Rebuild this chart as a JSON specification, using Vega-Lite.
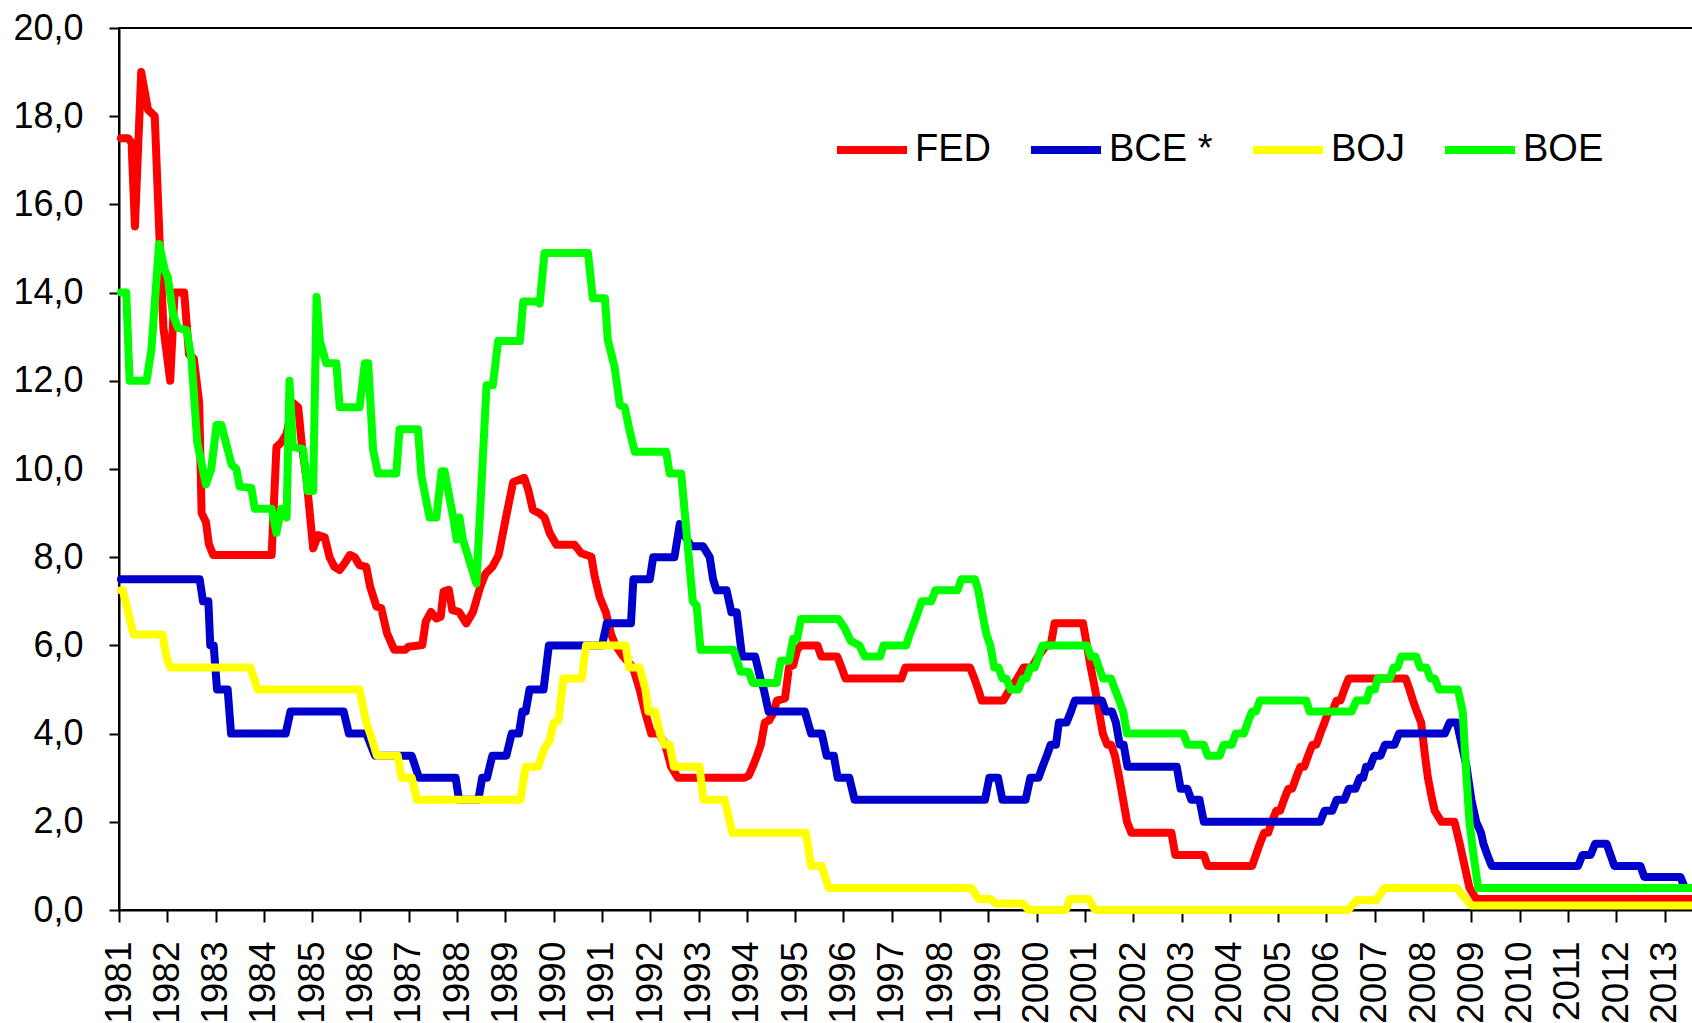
{
"$schema":"https://vega.github.io/schema/vega-lite/v6.json",
"width":1576,"height":882,
"autosize":{"type":"none"},
"padding":{"left":119,"top":28,"right":0,"bottom":113},
"background":"white",
"config":{"view":{"stroke":"black","strokeWidth":2},"font":"Liberation Sans"},
"data":{"values":[
{"bank":"FED","year":1981.04,"rate":17.5},{"bank":"FED","year":1981.19,"rate":17.5},{"bank":"FED","year":1981.26,"rate":17.4},{"bank":"FED","year":1981.33,"rate":15.5},{"bank":"FED","year":1981.46,"rate":19.0},{"bank":"FED","year":1981.6,"rate":18.15},{"bank":"FED","year":1981.74,"rate":18.0},{"bank":"FED","year":1981.84,"rate":15.2},{"bank":"FED","year":1981.92,"rate":13.2},{"bank":"FED","year":1982.06,"rate":12.0},{"bank":"FED","year":1982.15,"rate":14.0},{"bank":"FED","year":1982.35,"rate":14.0},{"bank":"FED","year":1982.45,"rate":12.6},{"bank":"FED","year":1982.55,"rate":12.5},{"bank":"FED","year":1982.66,"rate":11.5},{"bank":"FED","year":1982.71,"rate":9.0},{"bank":"FED","year":1982.8,"rate":8.8},{"bank":"FED","year":1982.86,"rate":8.3},{"bank":"FED","year":1982.95,"rate":8.05},{"bank":"FED","year":1984.16,"rate":8.05},{"bank":"FED","year":1984.26,"rate":10.5},{"bank":"FED","year":1984.36,"rate":10.6},{"bank":"FED","year":1984.47,"rate":10.8},{"bank":"FED","year":1984.6,"rate":11.5},{"bank":"FED","year":1984.71,"rate":11.4},{"bank":"FED","year":1984.79,"rate":10.5},{"bank":"FED","year":1984.88,"rate":9.8},{"bank":"FED","year":1985.02,"rate":8.2},{"bank":"FED","year":1985.12,"rate":8.5},{"bank":"FED","year":1985.26,"rate":8.45},{"bank":"FED","year":1985.36,"rate":8.0},{"bank":"FED","year":1985.46,"rate":7.78},{"bank":"FED","year":1985.57,"rate":7.71},{"bank":"FED","year":1985.67,"rate":7.86},{"bank":"FED","year":1985.78,"rate":8.05},{"bank":"FED","year":1985.88,"rate":8.0},{"bank":"FED","year":1985.98,"rate":7.82},{"bank":"FED","year":1986.12,"rate":7.78},{"bank":"FED","year":1986.2,"rate":7.33},{"bank":"FED","year":1986.33,"rate":6.88},{"bank":"FED","year":1986.43,"rate":6.84},{"bank":"FED","year":1986.55,"rate":6.27},{"bank":"FED","year":1986.7,"rate":5.9},{"bank":"FED","year":1986.92,"rate":5.9},{"bank":"FED","year":1987.0,"rate":5.97},{"bank":"FED","year":1987.28,"rate":6.01},{"bank":"FED","year":1987.35,"rate":6.54},{"bank":"FED","year":1987.46,"rate":6.76},{"bank":"FED","year":1987.57,"rate":6.61},{"bank":"FED","year":1987.66,"rate":6.65},{"bank":"FED","year":1987.72,"rate":7.22},{"bank":"FED","year":1987.83,"rate":7.26},{"bank":"FED","year":1987.9,"rate":6.8},{"bank":"FED","year":1988.04,"rate":6.76},{"bank":"FED","year":1988.19,"rate":6.5},{"bank":"FED","year":1988.33,"rate":6.76},{"bank":"FED","year":1988.48,"rate":7.33},{"bank":"FED","year":1988.59,"rate":7.63},{"bank":"FED","year":1988.73,"rate":7.78},{"bank":"FED","year":1988.86,"rate":8.05},{"bank":"FED","year":1988.94,"rate":8.5},{"bank":"FED","year":1989.03,"rate":9.0},{"bank":"FED","year":1989.16,"rate":9.7},{"bank":"FED","year":1989.39,"rate":9.8},{"bank":"FED","year":1989.48,"rate":9.5},{"bank":"FED","year":1989.57,"rate":9.07},{"bank":"FED","year":1989.7,"rate":9.0},{"bank":"FED","year":1989.81,"rate":8.9},{"bank":"FED","year":1989.92,"rate":8.54},{"bank":"FED","year":1990.06,"rate":8.28},{"bank":"FED","year":1990.43,"rate":8.28},{"bank":"FED","year":1990.57,"rate":8.09},{"bank":"FED","year":1990.78,"rate":8.01},{"bank":"FED","year":1990.85,"rate":7.56},{"bank":"FED","year":1990.95,"rate":7.1},{"bank":"FED","year":1991.08,"rate":6.75},{"bank":"FED","year":1991.19,"rate":6.25},{"bank":"FED","year":1991.28,"rate":6.0},{"bank":"FED","year":1991.44,"rate":5.75},{"bank":"FED","year":1991.64,"rate":5.5},{"bank":"FED","year":1991.78,"rate":5.0},{"bank":"FED","year":1991.89,"rate":4.5},{"bank":"FED","year":1992.02,"rate":4.0},{"bank":"FED","year":1992.18,"rate":4.0},{"bank":"FED","year":1992.31,"rate":3.75},{"bank":"FED","year":1992.43,"rate":3.25},{"bank":"FED","year":1992.57,"rate":3.0},{"bank":"FED","year":1993.95,"rate":3.0},{"bank":"FED","year":1994.04,"rate":3.05},{"bank":"FED","year":1994.12,"rate":3.25},{"bank":"FED","year":1994.21,"rate":3.5},{"bank":"FED","year":1994.29,"rate":3.75},{"bank":"FED","year":1994.37,"rate":4.25},{"bank":"FED","year":1994.46,"rate":4.3},{"bank":"FED","year":1994.54,"rate":4.45},{"bank":"FED","year":1994.62,"rate":4.75},{"bank":"FED","year":1994.79,"rate":4.8},{"bank":"FED","year":1994.87,"rate":5.5},{"bank":"FED","year":1994.96,"rate":5.55},{"bank":"FED","year":1995.04,"rate":5.9},{"bank":"FED","year":1995.12,"rate":6.0},{"bank":"FED","year":1995.46,"rate":6.0},{"bank":"FED","year":1995.54,"rate":5.75},{"bank":"FED","year":1995.87,"rate":5.75},{"bank":"FED","year":1995.96,"rate":5.5},{"bank":"FED","year":1996.04,"rate":5.25},{"bank":"FED","year":1997.2,"rate":5.25},{"bank":"FED","year":1997.28,"rate":5.5},{"bank":"FED","year":1998.62,"rate":5.5},{"bank":"FED","year":1998.71,"rate":5.25},{"bank":"FED","year":1998.79,"rate":5.0},{"bank":"FED","year":1998.86,"rate":4.75},{"bank":"FED","year":1999.31,"rate":4.75},{"bank":"FED","year":1999.44,"rate":5.0},{"bank":"FED","year":1999.6,"rate":5.25},{"bank":"FED","year":1999.73,"rate":5.5},{"bank":"FED","year":1999.9,"rate":5.5},{"bank":"FED","year":2000.03,"rate":5.75},{"bank":"FED","year":2000.2,"rate":6.0},{"bank":"FED","year":2000.29,"rate":6.0},{"bank":"FED","year":2000.37,"rate":6.5},{"bank":"FED","year":2000.96,"rate":6.5},{"bank":"FED","year":2001.04,"rate":6.0},{"bank":"FED","year":2001.12,"rate":5.5},{"bank":"FED","year":2001.21,"rate":5.0},{"bank":"FED","year":2001.29,"rate":4.5},{"bank":"FED","year":2001.37,"rate":4.0},{"bank":"FED","year":2001.46,"rate":3.75},{"bank":"FED","year":2001.54,"rate":3.75},{"bank":"FED","year":2001.62,"rate":3.5},{"bank":"FED","year":2001.71,"rate":3.0},{"bank":"FED","year":2001.79,"rate":2.5},{"bank":"FED","year":2001.87,"rate":2.0},{"bank":"FED","year":2001.96,"rate":1.75},{"bank":"FED","year":2002.79,"rate":1.75},{"bank":"FED","year":2002.87,"rate":1.25},{"bank":"FED","year":2003.46,"rate":1.25},{"bank":"FED","year":2003.54,"rate":1.0},{"bank":"FED","year":2004.46,"rate":1.0},{"bank":"FED","year":2004.54,"rate":1.25},{"bank":"FED","year":2004.62,"rate":1.5},{"bank":"FED","year":2004.71,"rate":1.75},{"bank":"FED","year":2004.79,"rate":1.75},{"bank":"FED","year":2004.87,"rate":2.0},{"bank":"FED","year":2004.96,"rate":2.25},{"bank":"FED","year":2005.04,"rate":2.25},{"bank":"FED","year":2005.12,"rate":2.5},{"bank":"FED","year":2005.21,"rate":2.75},{"bank":"FED","year":2005.29,"rate":2.75},{"bank":"FED","year":2005.37,"rate":3.0},{"bank":"FED","year":2005.46,"rate":3.25},{"bank":"FED","year":2005.54,"rate":3.25},{"bank":"FED","year":2005.62,"rate":3.5},{"bank":"FED","year":2005.71,"rate":3.75},{"bank":"FED","year":2005.79,"rate":3.75},{"bank":"FED","year":2005.87,"rate":4.0},{"bank":"FED","year":2005.96,"rate":4.25},{"bank":"FED","year":2006.04,"rate":4.5},{"bank":"FED","year":2006.12,"rate":4.5},{"bank":"FED","year":2006.21,"rate":4.75},{"bank":"FED","year":2006.29,"rate":4.75},{"bank":"FED","year":2006.37,"rate":5.0},{"bank":"FED","year":2006.46,"rate":5.25},{"bank":"FED","year":2007.64,"rate":5.25},{"bank":"FED","year":2007.72,"rate":5.0},{"bank":"FED","year":2007.79,"rate":4.75},{"bank":"FED","year":2007.87,"rate":4.5},{"bank":"FED","year":2007.96,"rate":4.25},{"bank":"FED","year":2008.04,"rate":3.5},{"bank":"FED","year":2008.1,"rate":3.0},{"bank":"FED","year":2008.17,"rate":2.6},{"bank":"FED","year":2008.24,"rate":2.25},{"bank":"FED","year":2008.38,"rate":2.0},{"bank":"FED","year":2008.65,"rate":2.0},{"bank":"FED","year":2008.76,"rate":1.5},{"bank":"FED","year":2008.86,"rate":1.0},{"bank":"FED","year":2008.96,"rate":0.5},{"bank":"FED","year":2009.1,"rate":0.25},{"bank":"FED","year":2013.63,"rate":0.25},
{"bank":"BCE *","year":1981.04,"rate":7.5},{"bank":"BCE *","year":1982.67,"rate":7.5},{"bank":"BCE *","year":1982.74,"rate":7.0},{"bank":"BCE *","year":1982.85,"rate":7.0},{"bank":"BCE *","year":1982.89,"rate":6.0},{"bank":"BCE *","year":1982.96,"rate":6.0},{"bank":"BCE *","year":1983.03,"rate":5.0},{"bank":"BCE *","year":1983.25,"rate":5.0},{"bank":"BCE *","year":1983.32,"rate":4.0},{"bank":"BCE *","year":1984.45,"rate":4.0},{"bank":"BCE *","year":1984.55,"rate":4.5},{"bank":"BCE *","year":1985.65,"rate":4.5},{"bank":"BCE *","year":1985.76,"rate":4.0},{"bank":"BCE *","year":1986.12,"rate":4.0},{"bank":"BCE *","year":1986.3,"rate":3.5},{"bank":"BCE *","year":1987.06,"rate":3.5},{"bank":"BCE *","year":1987.21,"rate":3.0},{"bank":"BCE *","year":1987.97,"rate":3.0},{"bank":"BCE *","year":1988.04,"rate":2.5},{"bank":"BCE *","year":1988.44,"rate":2.5},{"bank":"BCE *","year":1988.52,"rate":3.0},{"bank":"BCE *","year":1988.62,"rate":3.0},{"bank":"BCE *","year":1988.73,"rate":3.5},{"bank":"BCE *","year":1989.02,"rate":3.5},{"bank":"BCE *","year":1989.13,"rate":4.0},{"bank":"BCE *","year":1989.28,"rate":4.0},{"bank":"BCE *","year":1989.35,"rate":4.5},{"bank":"BCE *","year":1989.42,"rate":4.5},{"bank":"BCE *","year":1989.5,"rate":5.0},{"bank":"BCE *","year":1989.79,"rate":5.0},{"bank":"BCE *","year":1989.9,"rate":6.0},{"bank":"BCE *","year":1991.0,"rate":6.0},{"bank":"BCE *","year":1991.1,"rate":6.5},{"bank":"BCE *","year":1991.6,"rate":6.5},{"bank":"BCE *","year":1991.65,"rate":7.5},{"bank":"BCE *","year":1991.99,"rate":7.5},{"bank":"BCE *","year":1992.06,"rate":8.0},{"bank":"BCE *","year":1992.5,"rate":8.0},{"bank":"BCE *","year":1992.61,"rate":8.75},{"bank":"BCE *","year":1992.7,"rate":8.5},{"bank":"BCE *","year":1992.85,"rate":8.25},{"bank":"BCE *","year":1993.09,"rate":8.25},{"bank":"BCE *","year":1993.23,"rate":8.0},{"bank":"BCE *","year":1993.3,"rate":7.5},{"bank":"BCE *","year":1993.37,"rate":7.25},{"bank":"BCE *","year":1993.58,"rate":7.25},{"bank":"BCE *","year":1993.68,"rate":6.75},{"bank":"BCE *","year":1993.79,"rate":6.75},{"bank":"BCE *","year":1993.9,"rate":5.75},{"bank":"BCE *","year":1994.17,"rate":5.75},{"bank":"BCE *","year":1994.28,"rate":5.25},{"bank":"BCE *","year":1994.35,"rate":5.0},{"bank":"BCE *","year":1994.45,"rate":4.5},{"bank":"BCE *","year":1995.2,"rate":4.5},{"bank":"BCE *","year":1995.33,"rate":4.0},{"bank":"BCE *","year":1995.55,"rate":4.0},{"bank":"BCE *","year":1995.65,"rate":3.5},{"bank":"BCE *","year":1995.8,"rate":3.5},{"bank":"BCE *","year":1995.88,"rate":3.0},{"bank":"BCE *","year":1996.12,"rate":3.0},{"bank":"BCE *","year":1996.23,"rate":2.5},{"bank":"BCE *","year":1998.93,"rate":2.5},{"bank":"BCE *","year":1999.02,"rate":3.0},{"bank":"BCE *","year":1999.2,"rate":3.0},{"bank":"BCE *","year":1999.29,"rate":2.5},{"bank":"BCE *","year":1999.77,"rate":2.5},{"bank":"BCE *","year":1999.87,"rate":3.0},{"bank":"BCE *","year":2000.04,"rate":3.0},{"bank":"BCE *","year":2000.12,"rate":3.25},{"bank":"BCE *","year":2000.21,"rate":3.5},{"bank":"BCE *","year":2000.29,"rate":3.75},{"bank":"BCE *","year":2000.4,"rate":3.75},{"bank":"BCE *","year":2000.46,"rate":4.25},{"bank":"BCE *","year":2000.62,"rate":4.25},{"bank":"BCE *","year":2000.71,"rate":4.5},{"bank":"BCE *","year":2000.79,"rate":4.75},{"bank":"BCE *","year":2001.35,"rate":4.75},{"bank":"BCE *","year":2001.43,"rate":4.5},{"bank":"BCE *","year":2001.56,"rate":4.5},{"bank":"BCE *","year":2001.64,"rate":4.25},{"bank":"BCE *","year":2001.72,"rate":3.75},{"bank":"BCE *","year":2001.8,"rate":3.75},{"bank":"BCE *","year":2001.88,"rate":3.25},{"bank":"BCE *","year":2002.9,"rate":3.25},{"bank":"BCE *","year":2002.98,"rate":2.75},{"bank":"BCE *","year":2003.12,"rate":2.75},{"bank":"BCE *","year":2003.2,"rate":2.5},{"bank":"BCE *","year":2003.37,"rate":2.5},{"bank":"BCE *","year":2003.46,"rate":2.0},{"bank":"BCE *","year":2005.87,"rate":2.0},{"bank":"BCE *","year":2005.96,"rate":2.25},{"bank":"BCE *","year":2006.12,"rate":2.25},{"bank":"BCE *","year":2006.21,"rate":2.5},{"bank":"BCE *","year":2006.37,"rate":2.5},{"bank":"BCE *","year":2006.46,"rate":2.75},{"bank":"BCE *","year":2006.6,"rate":2.75},{"bank":"BCE *","year":2006.69,"rate":3.0},{"bank":"BCE *","year":2006.76,"rate":3.0},{"bank":"BCE *","year":2006.82,"rate":3.25},{"bank":"BCE *","year":2006.9,"rate":3.25},{"bank":"BCE *","year":2006.99,"rate":3.5},{"bank":"BCE *","year":2007.12,"rate":3.5},{"bank":"BCE *","year":2007.21,"rate":3.75},{"bank":"BCE *","year":2007.41,"rate":3.75},{"bank":"BCE *","year":2007.5,"rate":4.0},{"bank":"BCE *","year":2008.45,"rate":4.0},{"bank":"BCE *","year":2008.55,"rate":4.25},{"bank":"BCE *","year":2008.7,"rate":4.25},{"bank":"BCE *","year":2008.8,"rate":3.75},{"bank":"BCE *","year":2008.9,"rate":3.25},{"bank":"BCE *","year":2009.0,"rate":2.5},{"bank":"BCE *","year":2009.1,"rate":2.0},{"bank":"BCE *","year":2009.2,"rate":1.75},{"bank":"BCE *","year":2009.25,"rate":1.5},{"bank":"BCE *","year":2009.33,"rate":1.25},{"bank":"BCE *","year":2009.42,"rate":1.0},{"bank":"BCE *","year":2011.21,"rate":1.0},{"bank":"BCE *","year":2011.3,"rate":1.25},{"bank":"BCE *","year":2011.47,"rate":1.25},{"bank":"BCE *","year":2011.56,"rate":1.5},{"bank":"BCE *","year":2011.8,"rate":1.5},{"bank":"BCE *","year":2011.88,"rate":1.25},{"bank":"BCE *","year":2011.96,"rate":1.0},{"bank":"BCE *","year":2012.5,"rate":1.0},{"bank":"BCE *","year":2012.58,"rate":0.75},{"bank":"BCE *","year":2013.33,"rate":0.75},{"bank":"BCE *","year":2013.42,"rate":0.5},{"bank":"BCE *","year":2013.63,"rate":0.5},
{"bank":"BOJ","year":1981.04,"rate":7.25},{"bank":"BOJ","year":1981.08,"rate":7.25},{"bank":"BOJ","year":1981.3,"rate":6.25},{"bank":"BOJ","year":1981.9,"rate":6.25},{"bank":"BOJ","year":1981.98,"rate":5.75},{"bank":"BOJ","year":1982.06,"rate":5.5},{"bank":"BOJ","year":1983.72,"rate":5.5},{"bank":"BOJ","year":1983.87,"rate":5.0},{"bank":"BOJ","year":1985.98,"rate":5.0},{"bank":"BOJ","year":1986.12,"rate":4.25},{"bank":"BOJ","year":1986.2,"rate":4.0},{"bank":"BOJ","year":1986.34,"rate":3.5},{"bank":"BOJ","year":1986.77,"rate":3.5},{"bank":"BOJ","year":1986.85,"rate":3.0},{"bank":"BOJ","year":1987.06,"rate":3.0},{"bank":"BOJ","year":1987.17,"rate":2.5},{"bank":"BOJ","year":1989.31,"rate":2.5},{"bank":"BOJ","year":1989.42,"rate":3.25},{"bank":"BOJ","year":1989.68,"rate":3.25},{"bank":"BOJ","year":1989.8,"rate":3.65},{"bank":"BOJ","year":1989.92,"rate":3.85},{"bank":"BOJ","year":1990.0,"rate":4.25},{"bank":"BOJ","year":1990.1,"rate":4.3},{"bank":"BOJ","year":1990.2,"rate":5.25},{"bank":"BOJ","year":1990.58,"rate":5.25},{"bank":"BOJ","year":1990.67,"rate":6.0},{"bank":"BOJ","year":1991.49,"rate":6.0},{"bank":"BOJ","year":1991.56,"rate":5.5},{"bank":"BOJ","year":1991.78,"rate":5.5},{"bank":"BOJ","year":1991.9,"rate":5.0},{"bank":"BOJ","year":1991.96,"rate":4.5},{"bank":"BOJ","year":1992.1,"rate":4.5},{"bank":"BOJ","year":1992.2,"rate":4.0},{"bank":"BOJ","year":1992.29,"rate":3.75},{"bank":"BOJ","year":1992.4,"rate":3.75},{"bank":"BOJ","year":1992.49,"rate":3.25},{"bank":"BOJ","year":1993.02,"rate":3.25},{"bank":"BOJ","year":1993.1,"rate":2.5},{"bank":"BOJ","year":1993.54,"rate":2.5},{"bank":"BOJ","year":1993.7,"rate":1.75},{"bank":"BOJ","year":1995.22,"rate":1.75},{"bank":"BOJ","year":1995.33,"rate":1.0},{"bank":"BOJ","year":1995.55,"rate":1.0},{"bank":"BOJ","year":1995.69,"rate":0.5},{"bank":"BOJ","year":1998.65,"rate":0.5},{"bank":"BOJ","year":1998.8,"rate":0.25},{"bank":"BOJ","year":1999.05,"rate":0.25},{"bank":"BOJ","year":1999.15,"rate":0.15},{"bank":"BOJ","year":1999.71,"rate":0.15},{"bank":"BOJ","year":1999.84,"rate":0.0},{"bank":"BOJ","year":2000.6,"rate":0.0},{"bank":"BOJ","year":2000.69,"rate":0.25},{"bank":"BOJ","year":2001.08,"rate":0.25},{"bank":"BOJ","year":2001.21,"rate":0.0},{"bank":"BOJ","year":2006.45,"rate":0.0},{"bank":"BOJ","year":2006.62,"rate":0.22},{"bank":"BOJ","year":2007.03,"rate":0.22},{"bank":"BOJ","year":2007.2,"rate":0.5},{"bank":"BOJ","year":2008.69,"rate":0.5},{"bank":"BOJ","year":2008.85,"rate":0.3},{"bank":"BOJ","year":2009.0,"rate":0.1},{"bank":"BOJ","year":2013.63,"rate":0.1},
{"bank":"BOE","year":1981.04,"rate":14.0},{"bank":"BOE","year":1981.15,"rate":14.0},{"bank":"BOE","year":1981.22,"rate":12.0},{"bank":"BOE","year":1981.57,"rate":12.0},{"bank":"BOE","year":1981.67,"rate":12.7},{"bank":"BOE","year":1981.83,"rate":15.1},{"bank":"BOE","year":1981.95,"rate":14.5},{"bank":"BOE","year":1982.01,"rate":14.35},{"bank":"BOE","year":1982.12,"rate":13.5},{"bank":"BOE","year":1982.22,"rate":13.2},{"bank":"BOE","year":1982.4,"rate":13.15},{"bank":"BOE","year":1982.5,"rate":12.5},{"bank":"BOE","year":1982.62,"rate":10.6},{"bank":"BOE","year":1982.8,"rate":9.65},{"bank":"BOE","year":1982.91,"rate":10.0},{"bank":"BOE","year":1983.02,"rate":11.0},{"bank":"BOE","year":1983.12,"rate":11.0},{"bank":"BOE","year":1983.33,"rate":10.1},{"bank":"BOE","year":1983.43,"rate":10.0},{"bank":"BOE","year":1983.5,"rate":9.6},{"bank":"BOE","year":1983.74,"rate":9.57},{"bank":"BOE","year":1983.81,"rate":9.1},{"bank":"BOE","year":1984.16,"rate":9.1},{"bank":"BOE","year":1984.26,"rate":8.55},{"bank":"BOE","year":1984.36,"rate":9.1},{"bank":"BOE","year":1984.47,"rate":8.9},{"bank":"BOE","year":1984.53,"rate":12.0},{"bank":"BOE","year":1984.6,"rate":10.5},{"bank":"BOE","year":1984.81,"rate":10.45},{"bank":"BOE","year":1984.91,"rate":9.5},{"bank":"BOE","year":1985.02,"rate":9.5},{"bank":"BOE","year":1985.09,"rate":13.9},{"bank":"BOE","year":1985.16,"rate":12.9},{"bank":"BOE","year":1985.29,"rate":12.4},{"bank":"BOE","year":1985.5,"rate":12.4},{"bank":"BOE","year":1985.57,"rate":11.4},{"bank":"BOE","year":1985.98,"rate":11.4},{"bank":"BOE","year":1986.09,"rate":12.4},{"bank":"BOE","year":1986.16,"rate":12.4},{"bank":"BOE","year":1986.26,"rate":10.45},{"bank":"BOE","year":1986.36,"rate":9.9},{"bank":"BOE","year":1986.74,"rate":9.9},{"bank":"BOE","year":1986.81,"rate":10.9},{"bank":"BOE","year":1987.19,"rate":10.9},{"bank":"BOE","year":1987.26,"rate":9.85},{"bank":"BOE","year":1987.43,"rate":8.9},{"bank":"BOE","year":1987.57,"rate":8.9},{"bank":"BOE","year":1987.68,"rate":9.95},{"bank":"BOE","year":1987.74,"rate":9.95},{"bank":"BOE","year":1987.92,"rate":8.9},{"bank":"BOE","year":1987.99,"rate":8.4},{"bank":"BOE","year":1988.05,"rate":8.9},{"bank":"BOE","year":1988.12,"rate":8.4},{"bank":"BOE","year":1988.4,"rate":7.4},{"bank":"BOE","year":1988.61,"rate":11.9},{"bank":"BOE","year":1988.74,"rate":11.9},{"bank":"BOE","year":1988.85,"rate":12.9},{"bank":"BOE","year":1989.3,"rate":12.9},{"bank":"BOE","year":1989.37,"rate":13.8},{"bank":"BOE","year":1989.64,"rate":13.8},{"bank":"BOE","year":1989.71,"rate":13.75},{"bank":"BOE","year":1989.81,"rate":14.9},{"bank":"BOE","year":1990.71,"rate":14.9},{"bank":"BOE","year":1990.81,"rate":13.87},{"bank":"BOE","year":1991.06,"rate":13.87},{"bank":"BOE","year":1991.12,"rate":12.93},{"bank":"BOE","year":1991.26,"rate":12.32},{"bank":"BOE","year":1991.37,"rate":11.45},{"bank":"BOE","year":1991.47,"rate":11.4},{"bank":"BOE","year":1991.57,"rate":10.88},{"bank":"BOE","year":1991.68,"rate":10.39},{"bank":"BOE","year":1992.33,"rate":10.39},{"bank":"BOE","year":1992.4,"rate":9.9},{"bank":"BOE","year":1992.64,"rate":9.9},{"bank":"BOE","year":1992.88,"rate":7.0},{"bank":"BOE","year":1992.96,"rate":6.9},{"bank":"BOE","year":1993.04,"rate":5.9},{"bank":"BOE","year":1993.72,"rate":5.9},{"bank":"BOE","year":1993.87,"rate":5.4},{"bank":"BOE","year":1994.04,"rate":5.4},{"bank":"BOE","year":1994.12,"rate":5.15},{"bank":"BOE","year":1994.62,"rate":5.15},{"bank":"BOE","year":1994.7,"rate":5.65},{"bank":"BOE","year":1994.87,"rate":5.65},{"bank":"BOE","year":1994.96,"rate":6.15},{"bank":"BOE","year":1995.04,"rate":6.15},{"bank":"BOE","year":1995.12,"rate":6.6},{"bank":"BOE","year":1995.89,"rate":6.6},{"bank":"BOE","year":1996.02,"rate":6.4},{"bank":"BOE","year":1996.15,"rate":6.1},{"bank":"BOE","year":1996.33,"rate":6.0},{"bank":"BOE","year":1996.44,"rate":5.75},{"bank":"BOE","year":1996.76,"rate":5.75},{"bank":"BOE","year":1996.83,"rate":6.0},{"bank":"BOE","year":1997.3,"rate":6.0},{"bank":"BOE","year":1997.37,"rate":6.25},{"bank":"BOE","year":1997.46,"rate":6.5},{"bank":"BOE","year":1997.54,"rate":6.75},{"bank":"BOE","year":1997.62,"rate":7.0},{"bank":"BOE","year":1997.82,"rate":7.0},{"bank":"BOE","year":1997.9,"rate":7.25},{"bank":"BOE","year":1998.36,"rate":7.25},{"bank":"BOE","year":1998.44,"rate":7.5},{"bank":"BOE","year":1998.72,"rate":7.5},{"bank":"BOE","year":1998.79,"rate":7.25},{"bank":"BOE","year":1998.87,"rate":6.75},{"bank":"BOE","year":1998.96,"rate":6.25},{"bank":"BOE","year":1999.04,"rate":6.0},{"bank":"BOE","year":1999.12,"rate":5.5},{"bank":"BOE","year":1999.21,"rate":5.5},{"bank":"BOE","year":1999.29,"rate":5.25},{"bank":"BOE","year":1999.37,"rate":5.25},{"bank":"BOE","year":1999.46,"rate":5.0},{"bank":"BOE","year":1999.62,"rate":5.0},{"bank":"BOE","year":1999.71,"rate":5.25},{"bank":"BOE","year":1999.79,"rate":5.25},{"bank":"BOE","year":1999.87,"rate":5.5},{"bank":"BOE","year":1999.96,"rate":5.5},{"bank":"BOE","year":2000.04,"rate":5.75},{"bank":"BOE","year":2000.12,"rate":6.0},{"bank":"BOE","year":2001.04,"rate":6.0},{"bank":"BOE","year":2001.12,"rate":5.75},{"bank":"BOE","year":2001.21,"rate":5.75},{"bank":"BOE","year":2001.29,"rate":5.5},{"bank":"BOE","year":2001.37,"rate":5.25},{"bank":"BOE","year":2001.54,"rate":5.25},{"bank":"BOE","year":2001.62,"rate":5.0},{"bank":"BOE","year":2001.71,"rate":4.75},{"bank":"BOE","year":2001.79,"rate":4.5},{"bank":"BOE","year":2001.87,"rate":4.0},{"bank":"BOE","year":2003.04,"rate":4.0},{"bank":"BOE","year":2003.12,"rate":3.75},{"bank":"BOE","year":2003.46,"rate":3.75},{"bank":"BOE","year":2003.54,"rate":3.5},{"bank":"BOE","year":2003.79,"rate":3.5},{"bank":"BOE","year":2003.87,"rate":3.75},{"bank":"BOE","year":2004.04,"rate":3.75},{"bank":"BOE","year":2004.12,"rate":4.0},{"bank":"BOE","year":2004.29,"rate":4.0},{"bank":"BOE","year":2004.37,"rate":4.25},{"bank":"BOE","year":2004.46,"rate":4.5},{"bank":"BOE","year":2004.54,"rate":4.5},{"bank":"BOE","year":2004.62,"rate":4.75},{"bank":"BOE","year":2005.58,"rate":4.75},{"bank":"BOE","year":2005.65,"rate":4.5},{"bank":"BOE","year":2006.52,"rate":4.5},{"bank":"BOE","year":2006.62,"rate":4.75},{"bank":"BOE","year":2006.83,"rate":4.75},{"bank":"BOE","year":2006.9,"rate":5.0},{"bank":"BOE","year":2007.0,"rate":5.0},{"bank":"BOE","year":2007.06,"rate":5.25},{"bank":"BOE","year":2007.31,"rate":5.25},{"bank":"BOE","year":2007.39,"rate":5.5},{"bank":"BOE","year":2007.47,"rate":5.5},{"bank":"BOE","year":2007.55,"rate":5.75},{"bank":"BOE","year":2007.86,"rate":5.75},{"bank":"BOE","year":2007.94,"rate":5.5},{"bank":"BOE","year":2008.07,"rate":5.5},{"bank":"BOE","year":2008.15,"rate":5.25},{"bank":"BOE","year":2008.24,"rate":5.25},{"bank":"BOE","year":2008.33,"rate":5.0},{"bank":"BOE","year":2008.72,"rate":5.0},{"bank":"BOE","year":2008.82,"rate":4.5},{"bank":"BOE","year":2008.9,"rate":3.0},{"bank":"BOE","year":2008.96,"rate":2.0},{"bank":"BOE","year":2009.05,"rate":1.2},{"bank":"BOE","year":2009.14,"rate":0.5},{"bank":"BOE","year":2013.63,"rate":0.5}
]},
"encoding":{
"x":{"field":"year","type":"quantitative","scale":{"domain":[1981,2013.63],"nice":false,"zero":false},
"axis":{"values":[1981,1982,1983,1984,1985,1986,1987,1988,1989,1990,1991,1992,1993,1994,1995,1996,1997,1998,1999,2000,2001,2002,2003,2004,2005,2006,2007,2008,2009,2010,2011,2012,2013],"format":"d","labelAngle":-90,"labelFontSize":37,"labelFont":"Liberation Sans","labelColor":"black","tickSize":12,"tickWidth":2,"tickColor":"black","domainColor":"black","domainWidth":2,"labelPadding":19,"grid":false,"title":null,"labelFlush":false,"labelOverlap":false,"labelBound":false}},
"y":{"field":"rate","type":"quantitative","scale":{"domain":[0,20],"nice":false,"zero":true},
"axis":{"values":[0,2,4,6,8,10,12,14,16,18,20],"labelExpr":"replace(format(datum.value,'.1f'),'.',',')","labelFontSize":36,"labelFont":"Liberation Sans","labelColor":"black","tickSize":10,"tickWidth":2,"tickColor":"black","domainColor":"black","domainWidth":2,"labelPadding":26,"grid":false,"title":null,"labelOverlap":false,"labelBound":false}},
"color":{"field":"bank","type":"nominal","scale":{"domain":["FED","BCE *","BOJ","BOE"],"range":["#FF0000","#0000CC","#FFFF00","#00FF00"]},
"legend":{"title":null,"orient":"none","legendX":714,"legendY":83,"direction":"horizontal","columns":4,"symbolType":"stroke","symbolStrokeWidth":8,"symbolSize":4900,"labelFontSize":38,"labelFont":"Liberation Sans","labelColor":"black","labelOffset":4,"columnPadding":24,"padding":0,"labelLimit":0,"labelExpr":"datum.label === 'BOJ' ? 'BOJ\u2002' : datum.label"}}
},
"layer":[
{"transform":[{"filter":"datum.bank==='FED'"}],"mark":{"type":"line","strokeWidth":8,"strokeJoin":"round","strokeCap":"round"}},
{"transform":[{"filter":"datum.bank==='BCE *'"}],"mark":{"type":"line","strokeWidth":8,"strokeJoin":"round","strokeCap":"round"}},
{"transform":[{"filter":"datum.bank==='BOJ'"}],"mark":{"type":"line","strokeWidth":8,"strokeJoin":"round","strokeCap":"round"}},
{"transform":[{"filter":"datum.bank==='BOE'"}],"mark":{"type":"line","strokeWidth":8,"strokeJoin":"round","strokeCap":"round"}}
]
}
